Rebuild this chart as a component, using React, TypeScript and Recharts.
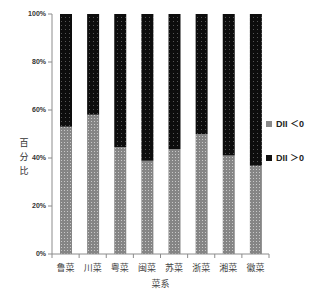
import React from "react";
import { BarChart, Bar, XAxis, YAxis } from "recharts";

// 菜系 categories and share of dishes with DII < 0 / DII > 0 (percent)
const cuisines = ["鲁菜", "川菜", "粤菜", "闽菜", "苏菜", "浙菜", "湘菜", "徽菜"];
const diiNeg = [53, 58, 44.6, 38.9, 43.8, 50, 41, 36.8];
const diiPos = diiNeg.map((v) => +(100 - v).toFixed(1));
const yTicks = [0, 20, 40, 60, 80, 100];

const data = cuisines.map((name, i) => ({ name, neg: diiNeg[i], pos: diiPos[i] }));

const AXIS = "#8c8c8c";
const FONT = "Arial, 'Liberation Sans', 'Noto Sans CJK SC', sans-serif";

// category label plus tick marks on the band edges (between categories)
const CategoryTick = (props: any) => {
  const { x, y, payload, index, width } = props;
  const band = width / cuisines.length;
  return (
    <g>
      <line x1={x - band / 2} x2={x - band / 2} y1={y} y2={y + 4} stroke={AXIS} />
      {index === cuisines.length - 1 && (
        <line x1={x + band / 2} x2={x + band / 2} y1={y} y2={y + 4} stroke={AXIS} />
      )}
      <text x={x} y={y + 17} fill="#444" fontSize={9} fontFamily={FONT} textAnchor="middle">
        {payload.value}
      </text>
    </g>
  );
};

const LegendBox = () => (
  <div style={{ position: "absolute", left: 266, top: 117, fontFamily: FONT, fontSize: 9, fontWeight: 700, color: "#222" }}>
    <div style={{ display: "flex", alignItems: "center", gap: 4, marginBottom: 21 }}>
      <span style={{ width: 6, height: 6, background: "#8a8a8a", display: "inline-block" }} />
      DII ＜0
    </div>
    <div style={{ display: "flex", alignItems: "center", gap: 4 }}>
      <span style={{ width: 6, height: 6, background: "#111", display: "inline-block" }} />
      DII ＞0
    </div>
  </div>
);

const YTitle = () => (
  <text x={24} y={146} fill="#333" fontSize={9} fontFamily={FONT} textAnchor="middle">
    <tspan x={24} dy={0}>百</tspan>
    <tspan x={24} dy={14}>分</tspan>
    <tspan x={24} dy={14}>比</tspan>
  </text>
);

export default function App() {
  return (
    <div style={{ position: "absolute", left: 0, top: 0, width: 322, height: 291, background: "#fff" }}>
      <BarChart width={322} height={291} data={data} margin={{ top: 14, right: 53, bottom: 4, left: 12 }}>
        <defs>
          <pattern id="dotGray" width="3" height="3" patternUnits="userSpaceOnUse">
            <rect width="3" height="3" fill="#858585" />
            <rect x="1" y="1" width="1" height="1" fill="#c8c8c8" />
          </pattern>
          <pattern id="dotBlack" width="4" height="4" patternUnits="userSpaceOnUse">
            <rect width="4" height="4" fill="#0d0d0d" />
            <rect x="1" y="1" width="1" height="1" fill="#555" />
          </pattern>
        </defs>
        <XAxis
          dataKey="name"
          axisLine={{ stroke: AXIS }}
          tickLine={false}
          tickSize={0}
          tickMargin={0}
          interval={0}
          tick={<CategoryTick />}
          height={33}
          label={{ value: "菜系", position: "insideBottom", offset: 0, fill: "#444", fontSize: 9, fontFamily: FONT }}
        />
        <YAxis
          domain={[0, 100]}
          ticks={yTicks}
          tickFormatter={(v) => `${v}%`}
          stroke={AXIS}
          tickSize={4}
          tick={{ fill: "#333", fontSize: 7, fontWeight: 700, fontFamily: FONT }}
          width={40}
          label={<YTitle />}
        />
        <Bar dataKey="neg" stackId="s" barSize={12} fill="url(#dotGray)" isAnimationActive={false} />
        <Bar dataKey="pos" stackId="s" barSize={12} fill="url(#dotBlack)" isAnimationActive={false} />
      </BarChart>
      <LegendBox />
    </div>
  );
}
